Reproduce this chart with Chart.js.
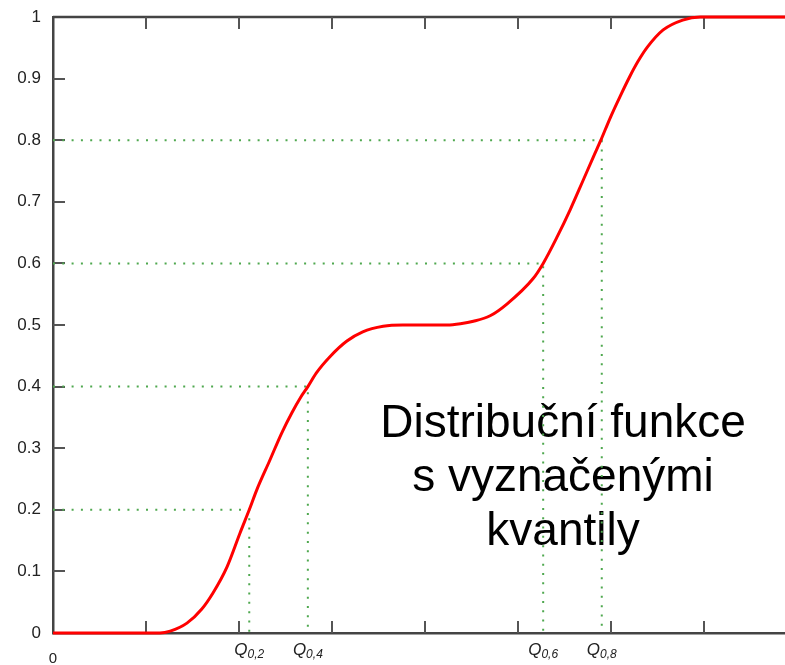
<!DOCTYPE html>
<html>
<head>
<meta charset="utf-8">
<script src="https://cdn.jsdelivr.net/npm/chart.js@4/dist/chart.umd.min.js"></script>
<style>
  html, body { margin: 0; padding: 0; background: #fff; }
  #wrap { width: 785px; height: 665px; }
</style>
</head>
<body>
<div id="wrap"><canvas id="cdf" width="785" height="665"></canvas></div>
<script>
// Distribution function (x in tick units, y = F(x))
const cdfX = [0, 0.97, 1.15, 1.26, 1.44, 1.60, 1.72, 1.87, 2.01, 2.11, 2.19, 2.33, 2.46, 2.57, 2.66, 2.74,
  2.83, 2.98, 3.16, 3.33, 3.55, 3.76, 4.24, 4.38, 4.52, 4.70, 4.88, 5.16, 5.27, 5.42, 5.56, 5.70, 5.81,
  5.89, 5.99, 6.10, 6.20, 6.29, 6.39, 6.56, 6.77, 6.96, 7.87];
const cdfY = [0, 0, 0, 0.003, 0.016, 0.039, 0.065, 0.107, 0.162, 0.2, 0.232, 0.28, 0.325, 0.358, 0.382, 0.4,
  0.422, 0.449, 0.474, 0.489, 0.498, 0.5, 0.5, 0.502, 0.506, 0.515, 0.534, 0.575, 0.6, 0.643, 0.687, 0.735, 0.773,
  0.8, 0.836, 0.872, 0.903, 0.928, 0.951, 0.979, 0.995, 1, 1];

// Quantiles marked with dotted guides
const quantileLevels = [0.2, 0.4, 0.6, 0.8];
const quantileX = [2.11, 2.74, 5.27, 5.90];
const quantileLabels = ['0,2', '0,4', '0,6', '0,8'];

// Axis labels
const yTickLabels = ['0', '0.1', '0.2', '0.3', '0.4', '0.5', '0.6', '0.7', '0.8', '0.9', '1'];
const xTickValues = [1, 2, 3, 4, 5, 6, 7];
const xOriginLabel = '0';
const annotationLines = ['Distribuční funkce', 's vyznačenými', 'kvantily'];

const AXIS_COLOR = '#444';
const TICK_COLOR = '#555';
const GUIDE_COLOR = '#4fa84f';

const curveDataset = {
  data: cdfX.map((x, i) => ({ x, y: cdfY[i] })),
  borderColor: '#ff0000',
  borderWidth: 3,
  pointRadius: 0,
  cubicInterpolationMode: 'monotone',
  clip: 4,
};

// One dotted guide per quantile: from y axis across to the curve, then down to x axis
const guideDatasets = quantileLevels.map((p, i) => ({
  data: [{ x: 0, y: p }, { x: quantileX[i], y: p }, { x: quantileX[i], y: 0 }],
  borderColor: GUIDE_COLOR,
  borderWidth: 2,
  borderDash: [2, 7.3],
  pointRadius: 0,
  tension: 0,
}));

/**
 * Draws the frame top line, inward tick marks and the big caption
 */
const framePlugin = {
  id: 'frame',
  beforeDatasetsDraw(chart) {
    const { ctx, chartArea, scales } = chart;
    const { left, right, top, bottom } = chartArea;
    ctx.save();

    // caption behind the guides
    ctx.fillStyle = '#000';
    ctx.font = '46px "Liberation Sans", Arial, sans-serif';
    ctx.textAlign = 'center';
    ctx.textBaseline = 'alphabetic';
    annotationLines.forEach((line, i) => {
      ctx.fillText(line, 563, 437 + i * 54);
    });

    // top frame line
    ctx.strokeStyle = AXIS_COLOR;
    ctx.lineWidth = 2.5;
    ctx.beginPath();
    ctx.moveTo(left, top);
    ctx.lineTo(right, top);
    ctx.stroke();

    // inward ticks
    ctx.strokeStyle = TICK_COLOR;
    ctx.lineWidth = 2;
    ctx.beginPath();
    xTickValues.forEach(v => {
      const px = Math.round(scales.x.getPixelForValue(v));
      ctx.moveTo(px, bottom);
      ctx.lineTo(px, bottom - 12);
      ctx.moveTo(px, top);
      ctx.lineTo(px, top + 12);
    });
    yTickLabels.forEach((_, i) => {
      if (i === 0 || i === yTickLabels.length - 1) return;
      const py = Math.round(scales.y.getPixelForValue(i / 10));
      ctx.moveTo(left, py);
      ctx.lineTo(left + 12, py);
    });
    ctx.stroke();
    ctx.restore();
  },
  afterDraw(chart) {
    const { ctx, chartArea, scales } = chart;
    ctx.save();
    ctx.fillStyle = '#222';
    ctx.textBaseline = 'alphabetic';

    // origin label under the y axis
    ctx.font = '15px "Liberation Sans", Arial, sans-serif';
    ctx.textAlign = 'center';
    ctx.fillText(xOriginLabel, chartArea.left, 663);

    // quantile labels Q with subscript
    quantileX.forEach((q, i) => {
      const cx = scales.x.getPixelForValue(q);
      const mainFont = 'italic 17px "Liberation Sans", Arial, sans-serif';
      const subFont = 'italic 12px "Liberation Sans", Arial, sans-serif';
      ctx.font = mainFont;
      const wQ = ctx.measureText('Q').width;
      ctx.font = subFont;
      const wS = ctx.measureText(quantileLabels[i]).width;
      const x0 = cx - (wQ + wS) / 2;
      ctx.textAlign = 'left';
      ctx.font = mainFont;
      ctx.fillText('Q', x0, 655);
      ctx.font = subFont;
      ctx.fillText(quantileLabels[i], x0 + wQ, 658);
    });
    ctx.restore();
  },
};

new Chart(document.getElementById('cdf'), {
  type: 'line',
  data: { datasets: [curveDataset, ...guideDatasets] },
  options: {
    responsive: false,
    animation: false,
    layout: { padding: { top: 17, right: 0, left: 0, bottom: 0 } },
    plugins: {
      legend: { display: false },
      tooltip: { enabled: false },
    },
    scales: {
      x: {
        type: 'linear',
        min: 0,
        max: 7.87,
        grid: { display: false },
        border: { display: true, color: AXIS_COLOR, width: 2.5 },
        ticks: { display: false },
        afterFit: scale => { scale.height = 32; scale.paddingLeft = 0; scale.paddingRight = 0; },
      },
      y: {
        type: 'linear',
        min: 0,
        max: 1,
        grid: { display: false, drawTicks: false },
        border: { display: true, color: AXIS_COLOR, width: 2.5 },
        ticks: {
          stepSize: 0.1,
          padding: 12,
          color: '#222',
          font: { family: '"Liberation Sans", Arial, sans-serif', size: 17 },
          callback: (value, index) => yTickLabels[index],
        },
        afterFit: scale => { scale.width = 53; scale.paddingTop = 0; scale.paddingBottom = 0; },
      },
    },
  },
  plugins: [framePlugin],
});
</script>
</body>
</html>
